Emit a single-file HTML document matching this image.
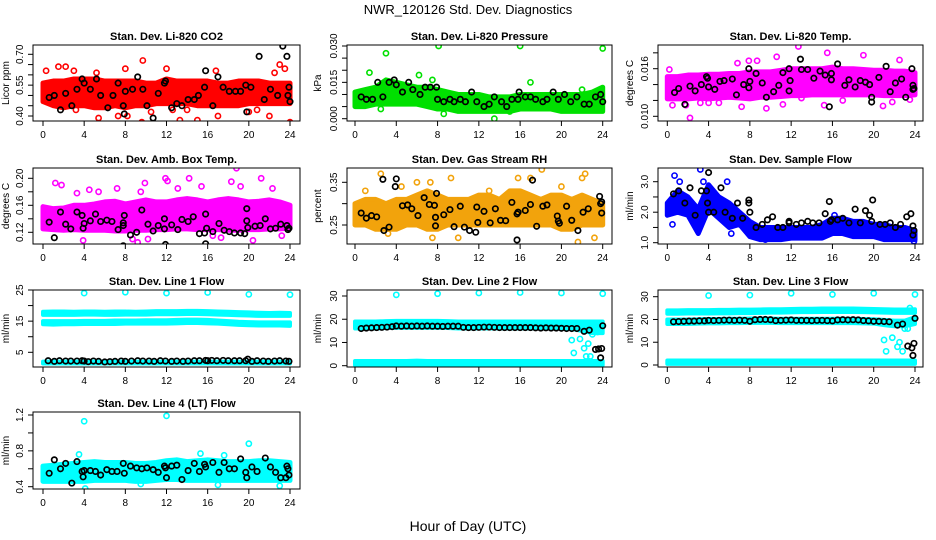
<!DOCTYPE html>
<html><head><meta charset="utf-8"><style>
body{margin:0;background:#fff}
svg{display:block;font-family:"Liberation Sans",sans-serif}
</style></head><body>
<svg id="c" width="936" height="540">
<text x="468" y="14" text-anchor="middle" font-size="13">NWR_120126  Std. Dev. Diagnostics</text>
<text x="468" y="531" text-anchor="middle" font-size="14">Hour of Day (UTC)</text>
</svg>
<script>
const bandHours=[0,1,2,3,4,5,6,7,8,9,10,11,12,13,14,15,16,17,18,19,20,21,22,23,24];
// P1 CO2
const co2Low=[0.47,0.45,0.44,0.45,0.45,0.44,0.44,0.45,0.44,0.45,0.45,0.46,0.46,0.46,0.46,0.45,0.45,0.45,0.45,0.45,0.46,0.46,0.46,0.46,0.46];
const co2High=[0.56,0.57,0.57,0.58,0.58,0.58,0.57,0.57,0.57,0.57,0.56,0.56,0.58,0.57,0.57,0.57,0.57,0.56,0.56,0.57,0.57,0.57,0.56,0.56,0.56];
const co2OutH=[0.3,1.5,2.2,3,3.2,5.2,5.4,7.3,8,8.2,9.6,9.7,10.5,12,12.6,13.3,14,15,15.9,16.8,17,20,20.8,22,22.5,23,23.5,24];
const co2OutV=[0.62,0.64,0.64,0.62,0.43,0.61,0.39,0.40,0.63,0.40,0.37,0.67,0.42,0.63,0.43,0.38,0.43,0.38,0.36,0.62,0.40,0.42,0.43,0.40,0.61,0.65,0.63,0.37];
const co2BlkH=[0.6,1.1,1.7,2.2,2.8,3.3,3.8,4,4.6,5.2,5.6,6.3,6.8,7.3,7.8,7.9,8,8.7,9.2,9.7,10.1,10.7,11.2,11.8,11.9,12.5,13,13.5,14.1,14.7,15.1,15.7,15.8,16.5,17,17.5,18.1,18.7,19.2,19.7,19.8,20.2,21,21.5,22.1,22.8,23.3,23.7,23.8,23.9,24];
const co2BlkV=[0.49,0.50,0.43,0.51,0.45,0.53,0.58,0.56,0.53,0.58,0.50,0.44,0.50,0.56,0.45,0.41,0.52,0.53,0.59,0.53,0.45,0.39,0.51,0.56,0.57,0.44,0.46,0.45,0.48,0.48,0.50,0.54,0.62,0.45,0.59,0.54,0.52,0.52,0.52,0.55,0.42,0.54,0.69,0.48,0.53,0.50,0.74,0.69,0.50,0.54,0.47];
// P2 pressure
const prLow=[0.005,0.005,0.006,0.006,0.006,0.006,0.006,0.005,0.004,0.004,0.003,0.003,0.003,0.003,0.003,0.003,0.004,0.004,0.004,0.004,0.003,0.003,0.003,0.003,0.003];
const prHigh=[0.011,0.012,0.013,0.016,0.015,0.014,0.013,0.013,0.012,0.011,0.010,0.010,0.010,0.009,0.009,0.009,0.010,0.010,0.010,0.010,0.010,0.010,0.010,0.011,0.013];
const prOutH=[3,8.1,16,24,1.4,7.5,2.5,8.6,13.5,15,17,22,0.1,6.2];
const prOutV=[0.027,0.030,0.030,0.029,0.019,0.016,0.004,0.002,0.000,0.003,0.015,0.012,0.008,0.018];
const prBlkH=[0.6,1.1,1.7,2.2,2.7,3.3,3.8,4,4.6,5.2,5.6,6.3,6.8,7.3,7.9,8,8.6,9.2,9.6,10.2,10.7,11.3,11.8,12.5,13,13.5,14.2,14.7,15.2,15.8,15.9,16.5,17,17.5,18.2,18.6,19.2,19.7,20.3,20.9,21.5,22.2,22.7,23.3,23.8,24];
const prBlkV=[0.009,0.008,0.008,0.015,0.009,0.015,0.016,0.014,0.011,0.015,0.012,0.010,0.013,0.013,0.013,0.008,0.007,0.008,0.007,0.008,0.007,0.011,0.007,0.005,0.006,0.009,0.007,0.005,0.008,0.008,0.011,0.009,0.009,0.008,0.007,0.008,0.011,0.008,0.010,0.007,0.009,0.006,0.006,0.009,0.010,0.007];
// P3 Li-820 temp
const ltLow=[0.0122,0.0122,0.0122,0.0123,0.0122,0.0123,0.0124,0.0123,0.0122,0.0124,0.0124,0.0125,0.0126,0.0126,0.0127,0.0127,0.0127,0.0127,0.0127,0.0127,0.0127,0.0126,0.0126,0.0126,0.0127];
const ltHigh=[0.0150,0.0150,0.0152,0.0152,0.0153,0.0153,0.0154,0.0154,0.0156,0.0156,0.0156,0.0158,0.0160,0.0160,0.0160,0.0160,0.0162,0.0160,0.0160,0.0159,0.0158,0.0158,0.0157,0.0157,0.0155];
const ltOutH=[0.2,0.5,1.8,2.2,3.2,4,5,6.8,7.2,7.9,8.7,9.6,10.6,11.2,12.7,15.2,15.5,17,19,20.9,21.8,22.5,23.5,13];
const ltOutV=[0.0159,0.0114,0.0114,0.0098,0.0117,0.0117,0.0117,0.0167,0.0112,0.0170,0.0170,0.0110,0.0175,0.0115,0.0188,0.0114,0.0180,0.0120,0.0177,0.0113,0.0118,0.0171,0.0121,0.0123];
const ltBlkH=[0.7,1.1,1.7,2.2,2.7,3.3,3.8,3.9,4,4.6,5.1,5.5,6.3,6.7,7.4,7.9,8,7.9,8.6,9.2,9.6,10.3,10.8,11.2,11.8,11.9,11.8,12.9,13,13.6,14.2,14.8,15.3,15.7,15.9,15.9,16.5,17.2,17.6,18.2,18.7,19.2,19.6,19.8,19.8,20.5,21.2,21.6,22.1,22.7,23.1,23.7,23.8,23.8,23.9];
const ltBlkV=[0.0130,0.0135,0.0115,0.0138,0.0132,0.0140,0.0150,0.0148,0.0137,0.0134,0.0144,0.0145,0.0147,0.0127,0.0140,0.0160,0.0144,0.0136,0.0154,0.0142,0.0124,0.0131,0.0139,0.0155,0.0160,0.0145,0.0132,0.0172,0.0159,0.0159,0.0148,0.0157,0.0152,0.0112,0.0154,0.0146,0.0166,0.0139,0.0146,0.0137,0.0145,0.0143,0.0140,0.0124,0.0118,0.0149,0.0163,0.0131,0.0142,0.0147,0.0124,0.0160,0.0139,0.0134,0.0135];
// P4 amb box temp
const abLow=[0.125,0.124,0.123,0.124,0.123,0.123,0.123,0.122,0.122,0.123,0.123,0.124,0.124,0.125,0.125,0.124,0.124,0.124,0.123,0.123,0.124,0.124,0.125,0.125,0.126];
const abHigh=[0.158,0.155,0.156,0.160,0.160,0.162,0.165,0.166,0.162,0.165,0.168,0.165,0.165,0.168,0.170,0.168,0.165,0.168,0.170,0.168,0.165,0.166,0.168,0.165,0.160];
const abOutH=[1.2,1.8,3.3,3.9,4.5,5.3,5.4,7.2,8.7,9.5,9.9,10.2,11.9,12.1,13.1,14.2,15.4,16.5,17.3,18.3,18.8,19.2,20.4,21.2,22.3,23.2,9.2];
const abOutV=[0.193,0.190,0.178,0.108,0.183,0.098,0.180,0.185,0.110,0.180,0.193,0.110,0.200,0.196,0.185,0.200,0.188,0.115,0.112,0.195,0.215,0.188,0.108,0.200,0.185,0.115,0.105];
const abBlkH=[0.6,1.1,1.7,2.2,2.7,3.3,3.8,3.9,4,4.6,5.1,5.6,6.2,6.7,7.3,7.8,7.8,7.8,7.9,8.5,9.1,9.6,10.2,10.7,11.2,11.8,11.8,11.9,12.5,13.1,13.5,14.1,14.6,15.2,15.7,15.8,15.8,15.9,16.5,17.1,17.6,18.1,18.6,19.2,19.6,19.8,19.8,19.9,20.6,21.1,21.6,22.1,22.6,23.1,23.7,23.8,23.9];
const abBlkV=[0.135,0.112,0.150,0.132,0.125,0.150,0.145,0.126,0.133,0.137,0.147,0.136,0.138,0.136,0.124,0.134,0.130,0.100,0.145,0.116,0.120,0.153,0.132,0.122,0.130,0.140,0.125,0.102,0.131,0.124,0.139,0.136,0.143,0.118,0.119,0.103,0.147,0.126,0.121,0.133,0.123,0.121,0.119,0.119,0.118,0.155,0.137,0.127,0.129,0.130,0.140,0.125,0.126,0.132,0.130,0.124,0.126];
// P5 RH
const rhLow=[0.25,0.25,0.24,0.24,0.24,0.25,0.25,0.24,0.24,0.25,0.25,0.25,0.25,0.25,0.25,0.25,0.25,0.25,0.25,0.25,0.24,0.24,0.25,0.25,0.25];
const rhHigh=[0.30,0.31,0.31,0.30,0.31,0.31,0.32,0.33,0.32,0.31,0.31,0.31,0.32,0.32,0.31,0.33,0.33,0.32,0.31,0.32,0.32,0.31,0.32,0.31,0.30];
const rhOutH=[2.5,4.5,6,7.3,9.3,10,13,15.8,17,18.1,20,21.6,22,22.3,23.2,3.2,7.5,1];
const rhOutV=[0.37,0.34,0.35,0.35,0.36,0.22,0.33,0.36,0.36,0.38,0.34,0.21,0.36,0.37,0.22,0.23,0.22,0.33];
const rhBlkH=[0.6,1.1,1.6,2.1,2.7,2.8,3.3,3.9,4,4.6,5.1,5.5,6.1,6.7,7.2,7.7,7.9,7.8,7.8,8.6,9.2,9.6,10.2,10.6,11.1,11.7,11.8,11.9,12.5,13.1,13.6,14.1,14.6,15.2,15.7,15.7,15.8,16.5,17,17.2,17.6,18.2,18.6,19.6,19.7,19.8,20.5,21,21.6,22.1,22.6,23.7,23.8,23.9,23.9];
const rhBlkV=[0.278,0.266,0.272,0.269,0.357,0.237,0.245,0.340,0.358,0.295,0.297,0.288,0.272,0.314,0.298,0.296,0.324,0.268,0.248,0.274,0.286,0.246,0.294,0.245,0.237,0.233,0.292,0.256,0.282,0.255,0.288,0.261,0.260,0.303,0.276,0.215,0.280,0.284,0.298,0.355,0.247,0.294,0.297,0.271,0.259,0.254,0.294,0.261,0.237,0.280,0.288,0.317,0.300,0.304,0.278];
// P6 sample flow
const sfLow=[1.9,2.0,1.9,1.3,2.1,1.8,1.5,1.6,1.2,1.1,1.1,1.1,1.15,1.15,1.15,1.15,1.3,1.3,1.2,1.2,1.2,1.1,1.1,1.1,1.1];
const sfHigh=[2.3,2.7,2.5,2.1,2.9,2.5,2.3,2.0,1.7,1.5,1.5,1.5,1.5,1.5,1.5,1.6,1.8,1.8,1.7,1.7,1.6,1.6,1.5,1.5,1.4];
const sfOutH=[0.5,0.7,1.2,3.2,3.5,5.8,6.2,9.5,16.2,23.9];
const sfOutV=[1.6,3.2,3.0,3.4,3.0,3.0,1.3,1.1,1.9,1.05];
const sfBlkH=[0.6,1.1,1.7,2.2,2.7,3.3,3.8,3.9,4,4,4.5,5.2,5.6,6.3,6.8,7.3,7.9,7.9,8,8.6,9.2,9.7,10.2,10.7,11.2,11.8,11.8,12.5,13,13.6,14.1,14.7,15.3,15.7,15.8,15.9,16.5,17,17.6,18.2,18.7,19.2,19.6,19.8,19.9,20.6,21.1,21.6,22.1,22.6,23.2,23.6,23.8,23.8,23.9];
const sfBlkV=[2.6,2.7,2.3,2.8,1.9,2.7,2.7,2.3,3.3,2.0,2.0,2.8,2.0,1.8,2.3,1.8,2.4,2.3,2.0,1.5,1.6,1.75,1.85,1.5,1.5,1.7,1.65,1.6,1.65,1.7,1.65,1.65,1.95,2.35,1.7,1.75,1.75,1.8,1.65,2.1,1.65,2.05,1.9,1.7,2.4,1.6,1.6,1.65,1.5,1.6,1.85,1.95,1.55,1.25,1.4];
// P7 line1
const l1aLow=[17.0,17.0,17.0,17.0,17.1,17.1,17.0,17.0,17.1,17.1,17.1,17.2,17.2,17.2,17.3,17.3,17.2,17.1,17.0,16.9,16.8,16.7,16.7,16.7,16.7];
const l1aHigh=[18.0,18.1,18.1,18.0,18.1,18.1,18.0,18.1,18.1,18.0,18.1,18.2,18.2,18.2,18.3,18.3,18.2,18.1,18.0,17.9,17.8,17.7,17.6,17.7,17.6];
const l1bLow=[14.0,13.9,14.0,14.0,14.1,14.1,14.1,14.1,14.2,14.2,14.2,14.2,14.2,14.3,14.4,14.4,14.3,14.2,14.0,13.8,13.7,13.6,13.6,13.6,13.5];
const l1bHigh=[15.0,15.0,15.0,15.0,15.1,15.1,15.1,15.2,15.2,15.2,15.3,15.3,15.3,15.4,15.5,15.5,15.4,15.2,15.0,14.8,14.7,14.6,14.6,14.6,14.6];
const l1cLow=[1.4,1.4,1.4,1.4,1.4,1.4,1.4,1.4,1.4,1.4,1.4,1.4,1.4,1.4,1.4,1.4,1.4,1.4,1.4,1.4,1.4,1.4,1.4,1.4,1.4];
const l1cHigh=[2.0,2.0,2.0,2.0,2.0,2.0,2.0,2.0,2.0,2.0,2.0,2.0,2.0,2.0,2.0,2.0,2.0,2.0,2.0,2.0,2.0,2.0,2.0,2.0,2.0];
const l1OutH=[4,8,12,16,20,24];
const l1OutV=[24,24.3,24,24.2,23.6,23.5];
const l1BlkH=[0.5,1.1,1.6,2.2,2.7,3.3,3.8,4,4.4,4.9,5.4,6,6.5,7,7.6,8,8.6,9.2,9.7,10.3,10.8,11.4,11.9,12.5,13,13.6,14.1,14.7,15.2,15.8,16,16.4,16.9,17.5,18,18.6,19.1,19.7,19.9,20.3,20.8,21.4,21.9,22.5,23,23.6,23.9];
const l1BlkV=[2.3,2.1,2.3,2.2,2.2,2.2,2.3,2.2,2.0,2.2,2.1,1.9,2.0,2.1,2.2,2.1,2.2,2.3,2.2,2.2,2.1,2.3,2.2,2.1,2.2,2.1,2.2,2.3,2.3,2.4,2.3,2.4,2.3,2.4,2.3,2.3,2.3,2.3,2.8,2.1,2.3,2.2,2.1,2.2,2.3,2.2,2.1];
// P8 line2
const l2aLow=[16.0,16.0,16.0,16.2,16.3,16.3,16.3,16.3,16.3,16.2,16.0,16.0,16.0,16.0,16.0,16.0,16.0,16.0,16.0,16.0,16.0,15.8,15.0,14.0,14.0];
const l2aHigh=[19.0,19.0,19.0,19.2,19.3,19.3,19.3,19.3,19.3,19.2,19.0,19.0,19.0,19.0,19.0,19.0,19.0,19.0,19.0,19.0,19.0,19.0,19.0,19.0,19.0];
const l2cLow=[0.3,0.3,0.3,0.3,0.3,0.3,0.3,0.3,0.3,0.3,0.3,0.3,0.3,0.3,0.3,0.3,0.3,0.3,0.3,0.3,0.3,0.3,0.3,0.3,0.3];
const l2cHigh=[2.0,2.0,2.0,2.0,2.0,2.0,2.2,2.0,2.0,2.0,2.0,2.0,2.0,2.0,2.0,2.0,2.0,2.0,2.0,2.0,2.0,2.0,2.0,2.0,2.0];
const l2OutH=[4,8,12,16,20,24,21,21.2,21.8,22.2,22.4,22.6,22.8,23,23.5];
const l2OutV=[30.5,31,31.3,31.5,31.3,31,11,5.5,11.5,7.5,4,9.5,4,13.5,14.5];
const l2BlkH=[0.6,1.1,1.6,2.1,2.6,3.1,3.6,4,4.5,5,5.5,6,6.5,7,7.5,8,8.5,9,9.5,10,10.5,11,11.5,12,12.5,13,13.5,14,14.5,15,15.5,16,16.5,17,17.5,18,18.5,19,19.5,20,20.5,21,21.5,22.2,22.7,23.3,23.6,23.8,23.9,24];
const l2BlkV=[16,16.2,16.3,16.4,16.5,16.6,16.8,17.1,17,17.1,17,17.1,17,17.1,17,17,16.9,17,17,17,16.5,16.4,16.4,16.5,16.6,16.6,16.5,16.4,16.4,16.4,16.4,16.4,16.4,16.4,16.3,16.2,16.3,16.2,16.2,16.1,16,16,16,14.8,15.3,7,7.2,3.4,7.4,17.2];
// P9 line3
const l3aLow=[22.5,22.5,22.6,22.6,22.6,22.7,22.7,22.8,22.8,22.9,23.0,23.0,23.1,23.2,23.2,23.3,23.3,23.3,23.3,23.2,23.1,23.0,22.9,22.9,22.9];
const l3aHigh=[24.0,24.0,24.1,24.1,24.1,24.2,24.2,24.3,24.3,24.4,24.5,24.5,24.6,24.7,24.7,24.8,24.8,24.8,24.8,24.7,24.6,24.5,24.4,24.4,24.5];
const l3bLow=[18.0,18.0,18.0,18.2,18.3,18.3,18.4,18.4,18.5,18.5,18.5,18.4,18.4,18.4,18.4,18.4,18.4,18.4,18.4,18.3,18.2,17.5,17.0,17.0,18.0];
const l3bHigh=[20.0,20.0,20.0,20.1,20.2,20.2,20.3,20.3,20.4,20.4,20.4,20.3,20.3,20.3,20.3,20.3,20.3,20.3,20.3,20.2,20.1,19.8,19.5,19.5,21.0];
const l3cLow=[0.5,0.5,0.5,0.5,0.5,0.5,0.5,0.5,0.5,0.5,0.5,0.5,0.5,0.5,0.5,0.5,0.5,0.5,0.5,0.5,0.5,0.5,0.5,0.5,0.5];
const l3cHigh=[2.0,2.0,2.0,2.0,2.0,2.0,2.0,2.0,2.0,2.0,2.0,2.0,2.0,2.0,2.0,2.0,2.0,2.0,2.0,2.0,2.0,2.0,2.0,2.0,2.0];
const l3OutH=[4,8,12,16,20,24,21,21.2,21.8,22.3,22.5,22.8,23,23.3,23.5,23.8];
const l3OutV=[30.5,30.7,31.5,31,31.5,31,11,6,12,8,10,6,16,16,25,20];
const l3BlkH=[0.6,1.1,1.6,2.1,2.6,3.1,3.6,4,4.5,5,5.5,6,6.5,7,7.5,8,8.5,9,9.5,10,10.5,11,11.5,12,12.5,13,13.5,14,14.5,15,15.5,16,16.5,17,17.5,18,18.5,19,19.5,20,20.5,21,21.5,22.3,22.8,23.3,23.7,23.8,23.9,24];
const l3BlkV=[19,19.1,19.2,19.3,19.3,19.4,19.4,19.6,19.5,19.6,19.7,19.7,19.6,19.7,19.6,19.2,19.9,20,20,19.9,19.5,19.6,19.7,19.8,19.6,19.6,19.6,19.5,19.6,19.6,19.5,19.4,19.8,19.9,19.8,19.9,19.8,19.5,19.4,19.2,19.2,19.1,19.0,17.5,18,8.3,7.5,4.2,9.5,20.5];
// P10 line4
const l4Low=[0.46,0.46,0.46,0.46,0.46,0.47,0.47,0.47,0.47,0.46,0.46,0.47,0.48,0.48,0.47,0.47,0.47,0.47,0.47,0.47,0.47,0.47,0.47,0.47,0.47];
const l4High=[0.63,0.64,0.65,0.66,0.67,0.68,0.67,0.67,0.67,0.66,0.66,0.67,0.69,0.70,0.68,0.69,0.70,0.69,0.68,0.68,0.68,0.69,0.69,0.68,0.67];
const l4OutH=[4,12,20,3.5,4.1,15.3,17.6,23,17,2.8,9.5];
const l4OutV=[1.13,1.19,0.88,0.76,0.38,0.77,0.75,0.41,0.42,0.44,0.43];
const l4BlkH=[0.6,1.1,1.7,2.2,2.8,3.3,3.8,3.9,4,4.6,5.1,5.6,6.2,6.7,7.2,7.8,7.9,8.5,9.1,9.6,10.1,10.7,11.2,11.8,11.9,12,12.5,13,13.5,14.1,14.7,15.2,15.7,15.8,16.5,17.1,17.6,18.1,18.6,19.2,19.7,19.8,20.3,20.8,21.6,22.1,22.6,23.1,23.6,23.7,23.8,23.9];
const l4BlkV=[0.55,0.70,0.60,0.66,0.44,0.68,0.57,0.51,0.58,0.58,0.57,0.53,0.59,0.57,0.57,0.66,0.55,0.63,0.61,0.60,0.61,0.59,0.56,0.63,0.61,0.50,0.63,0.64,0.48,0.58,0.66,0.57,0.65,0.62,0.67,0.56,0.67,0.60,0.60,0.71,0.56,0.50,0.62,0.57,0.72,0.62,0.56,0.50,0.50,0.63,0.60,0.53];
const xTickLabels=["0","4","8","12","16","20","24"];

const NS="http://www.w3.org/2000/svg";
const svg=document.getElementById('c');
function mk(tag,attrs,parent){const e=document.createElementNS(NS,tag);for(const k in attrs)e.setAttribute(k,attrs[k]);(parent||svg).appendChild(e);return e;}
const cols=[{l:33,r:300,x0:43,x24:290,yl:9},{l:347,r:612,x0:355,x24:602.7,yl:321},{l:658,r:923,x0:667.3,x24:915,yl:633}];
const rows=[{t:45,b:121},{t:168,b:244},{t:290,b:367},{t:412,b:489}];
const panels=[
 {name:'co2',title:'Stan. Dev. Li-820 CO2',ylab:'Licor ppm',c:0,r:0,v1:0.40,p1:116,v2:0.70,p2:54.3,ticks:[0.40,0.45,0.50,0.55,0.60,0.65,0.70],labs:{0.40:'0.40',0.55:'0.55',0.70:'0.70'},col:'#ff0000',sw:5,bands:[[co2Low,co2High]],oh:co2OutH,ov:co2OutV,bh:co2BlkH,bv:co2BlkV},
 {name:'pressure',title:'Stan. Dev. Li-820 Pressure',ylab:'kPa',c:1,r:0,v1:0,p1:118.7,v2:0.030,p2:46,ticks:[0,0.005,0.010,0.015,0.020,0.025,0.030],labs:{0:'0.000',0.015:'0.015',0.030:'0.030'},col:'#00e000',sw:5,bands:[[prLow,prHigh]],oh:prOutH,ov:prOutV,bh:prBlkH,bv:prBlkV},
 {name:'li820-temp',title:'Stan. Dev. Li-820 Temp.',ylab:'degrees C',c:2,r:0,v1:0.010,p1:116.3,v2:0.016,p2:68.7,ticks:[0.010,0.012,0.014,0.016,0.018],labs:{0.010:'0.010',0.016:'0.016'},col:'#ff00ff',sw:5,bands:[[ltLow,ltHigh]],oh:ltOutH,ov:ltOutV,bh:ltBlkH,bv:ltBlkV},
 {name:'amb-box-temp',title:'Stan. Dev. Amb. Box Temp.',ylab:'degrees C',c:0,r:1,v1:0.12,p1:232.3,v2:0.20,p2:178.3,ticks:[0.12,0.14,0.16,0.18,0.20],labs:{0.12:'0.12',0.16:'0.16',0.20:'0.20'},col:'#ff00ff',sw:5,bands:[[abLow,abHigh]],oh:abOutH,ov:abOutV,bh:abBlkH,bv:abBlkV},
 {name:'gas-stream-rh',title:'Stan. Dev. Gas Stream RH',ylab:'percent',c:1,r:1,v1:0.25,p1:225,v2:0.35,p2:182.3,ticks:[0.25,0.30,0.35],labs:{0.25:'0.25',0.35:'0.35'},col:'#f2a30c',sw:5,bands:[[rhLow,rhHigh]],oh:rhOutH,ov:rhOutV,bh:rhBlkH,bv:rhBlkV},
 {name:'sample-flow',title:'Stan. Dev. Sample Flow',ylab:'ml/min',c:2,r:1,v1:1.0,p1:242.7,v2:3.0,p2:181.7,ticks:[1.0,1.5,2.0,2.5,3.0],labs:{1.0:'1.0',2.0:'2.0',3.0:'3.0'},col:'#0000ff',sw:5,bands:[[sfLow,sfHigh]],oh:sfOutH,ov:sfOutV,bh:sfBlkH,bv:sfBlkV},
 {name:'line1-flow',title:'Stan. Dev. Line 1 Flow',ylab:'ml/min',c:0,r:2,v1:5,p1:352.3,v2:25,p2:290,ticks:[5,10,15,20,25],labs:{5:'5',15:'15',25:'25'},col:'#00ffff',sw:4,bands:[[l1aLow,l1aHigh],[l1bLow,l1bHigh],[l1cLow,l1cHigh]],oh:l1OutH,ov:l1OutV,bh:l1BlkH,bv:l1BlkV},
 {name:'line2-flow',title:'Stan. Dev. Line 2 Flow',ylab:'ml/min',c:1,r:2,v1:0,p1:365.7,v2:30,p2:296,ticks:[0,10,20,30],labs:{0:'0',10:'10',20:'20',30:'30'},col:'#00ffff',sw:4,bands:[[l2aLow,l2aHigh],[l2cLow,l2cHigh]],oh:l2OutH,ov:l2OutV,bh:l2BlkH,bv:l2BlkV},
 {name:'line3-flow',title:'Stan. Dev. Line 3 Flow',ylab:'ml/min',c:2,r:2,v1:0,p1:365,v2:30,p2:296.7,ticks:[0,10,20,30],labs:{0:'0',10:'10',20:'20',30:'30'},col:'#00ffff',sw:4,bands:[[l3aLow,l3aHigh],[l3bLow,l3bHigh],[l3cLow,l3cHigh]],oh:l3OutH,ov:l3OutV,bh:l3BlkH,bv:l3BlkV},
 {name:'line4-flow',title:'Stan. Dev. Line 4 (LT) Flow',ylab:'ml/min',c:0,r:3,v1:0.4,p1:486.7,v2:1.2,p2:415,ticks:[0.4,0.6,0.8,1.0,1.2],labs:{0.4:'0.4',0.8:'0.8',1.2:'1.2'},col:'#00ffff',sw:5,bands:[[l4Low,l4High]],oh:l4OutH,ov:l4OutV,bh:l4BlkH,bv:l4BlkV}
];
panels.forEach(P=>{
 const C=cols[P.c],R=rows[P.r];
 const X=h=>C.x0+(C.x24-C.x0)*h/24;
 const Y=v=>P.p1+(P.p2-P.p1)*(v-P.v1)/(P.v2-P.v1);
 const g=mk('g',{});
 
 
 const clipId='clip-'+P.name;
 const cp=mk('clipPath',{id:clipId},g);mk('rect',{x:C.l,y:R.t,width:C.r-C.l,height:R.b-R.t},cp);
 const plot=mk('g',{'clip-path':'url(#'+clipId+')'},g);
 P.bands.forEach(b=>{
  let pts=bandHours.map((h,i)=>X(h)+','+Y(b[1][i]));
  pts=pts.concat(bandHours.map((h,i)=>X(h)+','+Y(b[0][i])).reverse());
  const pg=mk('polygon',{points:pts.join(' '),fill:P.col,stroke:P.col,'stroke-width':P.sw,'stroke-linejoin':'round'},plot);
  
  
 });
 P.oh.forEach((h,i)=>{
  const c=mk('circle',{cx:X(h),cy:Y(P.ov[i]),r:2.6,fill:'none',stroke:P.col,'stroke-width':1.6},plot);
  
  
 });
 P.bh.forEach((h,i)=>{
  const c=mk('circle',{cx:X(h),cy:Y(P.bv[i]),r:2.7,fill:'none',stroke:'#000','stroke-width':1.7},plot);
  
  
 });
 const box=mk('rect',{x:C.l,y:R.t,width:C.r-C.l,height:R.b-R.t,fill:'none',stroke:'#000','stroke-width':1},g);
 
 
 const t=mk('text',{x:(C.l+C.r)/2,y:R.t-5,'text-anchor':'middle','font-size':11,'font-weight':'bold'},g);
 t.textContent=P.title;
 
 
 const yl=mk('text',{x:C.yl,y:(R.t+R.b)/2,'text-anchor':'middle','font-size':10,transform:'rotate(-90 '+C.yl+' '+(R.t+R.b)/2+')'},g);
 yl.textContent=P.ylab;
 
 
 xTickLabels.forEach(lbl=>{
  const x=X(+lbl);
  mk('line',{x1:x,x2:x,y1:R.b,y2:R.b+5,stroke:'#000'},g);
  const tx=mk('text',{x:x,y:R.b+17,'text-anchor':'middle','font-size':10},g);
  tx.textContent=lbl;
  
  
 });
 P.ticks.forEach(v=>{
  const y=Y(v);
  mk('line',{x1:C.l-5,x2:C.l,y1:y,y2:y,stroke:'#000'},g);
  if(P.labs[v]!==undefined){
   const lx=C.l-10;
   const ty=mk('text',{x:lx,y:y,'text-anchor':'middle','font-size':10,transform:'rotate(-90 '+lx+' '+y+')'},g);
   ty.textContent=P.labs[v];
   
   
  }
 });
});
</script>
</body></html>
